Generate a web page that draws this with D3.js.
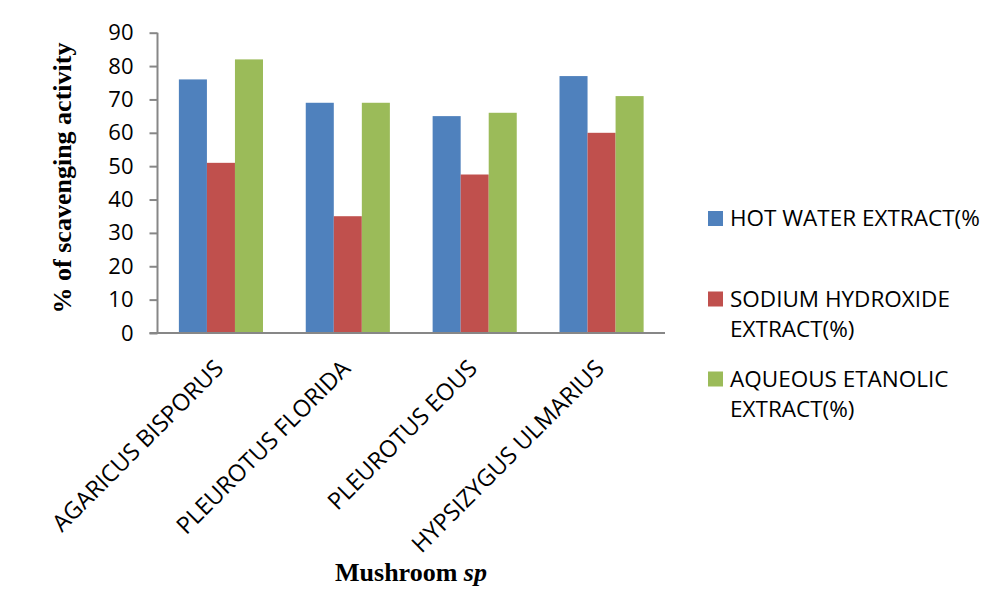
<!DOCTYPE html>
<html>
<head>
<meta charset="utf-8">
<script src="https://cdn.jsdelivr.net/npm/d3@7"></script>
<style>
  html, body { margin: 0; padding: 0; background: #fff; }
  svg { display: block; }
</style>
</head>
<body>
<svg id="chart" width="992" height="589"></svg>
<script>
// Mushroom species and scavenging activity (%) for each extract type
const categories = ["AGARICUS BISPORUS", "PLEUROTUS FLORIDA", "PLEUROTUS EOUS", "HYPSIZYGUS ULMARIUS"];
const seriesNames = ["HOT WATER EXTRACT(%", "SODIUM HYDROXIDE EXTRACT(%)", "AQUEOUS ETANOLIC EXTRACT(%)"];
const hotWater = [76, 69, 65, 77];
const sodiumHydroxide = [51, 35, 47.5, 60];
const aqueousEthanolic = [82, 69, 66, 71];
const yTicks = [0, 10, 20, 30, 40, 50, 60, 70, 80, 90];
const legendLines = [["HOT WATER EXTRACT(%"], ["SODIUM HYDROXIDE", "EXTRACT(%)"], ["AQUEOUS ETANOLIC", "EXTRACT(%)"]];

const seriesValues = [hotWater, sodiumHydroxide, aqueousEthanolic];
const colors = ["#4F81BD", "#C0504D", "#9BBB59"];
const sans = "'Open Sans', 'Liberation Sans', Arial, sans-serif";
const serif = "'Liberation Serif', 'Times New Roman', serif";

const svg = d3.select("#chart");
const plot = { left: 157.5, right: 665, top: 32.7, bottom: 333 };

const x0 = d3.scaleBand().domain(categories).range([plot.left, plot.right]).paddingInner(0.337).paddingOuter(0.1685);
const x1 = d3.scaleBand().domain(d3.range(seriesNames.length)).range([0, x0.bandwidth()]);
const y = d3.scaleLinear().domain([0, 90]).range([plot.bottom, plot.top]);

// Bars
const groups = svg.append("g").selectAll("g")
  .data(categories)
  .join("g")
  .attr("transform", d => `translate(${x0(d)},0)`);

groups.selectAll("rect")
  .data((d, i) => seriesValues.map((vals, s) => ({ s, v: vals[i] })))
  .join("rect")
  .attr("x", d => x1(d.s))
  .attr("width", x1.bandwidth())
  .attr("y", d => y(d.v))
  .attr("height", d => y(0) - y(d.v))
  .attr("fill", d => colors[d.s]);

// Y axis
const yAxis = svg.append("g")
  .attr("transform", `translate(${plot.left},0)`)
  .call(d3.axisLeft(y).tickValues(yTicks).tickSize(8).tickPadding(16).tickFormat(d3.format("d")));
yAxis.select(".domain").attr("stroke", "#878787").attr("stroke-width", 2).attr("d", `M0,${plot.top}V${plot.bottom}`);
yAxis.selectAll(".tick line").attr("stroke", "#878787").attr("stroke-width", 2);
yAxis.selectAll(".tick text")
  .attr("font-family", sans)
  .attr("font-size", 22)
  .attr("fill", "#000");

// X axis baseline
const xAxis = svg.append("g")
  .attr("transform", `translate(0,${plot.bottom})`)
  .call(d3.axisBottom(x0).tickSize(0).tickFormat(""));
xAxis.select(".domain").attr("stroke", "#878787").attr("stroke-width", 2).attr("d", `M${plot.left - 8},0H${plot.right}`);

// Rotated category labels
svg.append("g").selectAll("text")
  .data(categories)
  .join("text")
  .attr("transform", d => `translate(${x0(d) + x0.bandwidth() / 2 + 4},${plot.bottom + 37}) rotate(-45)`)
  .attr("text-anchor", "end")
  .attr("font-family", sans)
  .attr("font-size", 23.5)
  .attr("fill", "#000")
  .text(d => d);

// Axis titles
svg.append("text")
  .attr("transform", `translate(71,178) rotate(-90)`)
  .attr("text-anchor", "middle")
  .attr("font-family", serif)
  .attr("font-weight", "bold")
  .attr("font-size", 26)
  .attr("fill", "#000")
  .text("% of scavenging activity");

const xTitle = svg.append("text")
  .attr("x", 411)
  .attr("y", 581)
  .attr("text-anchor", "middle")
  .attr("font-family", serif)
  .attr("font-weight", "bold")
  .attr("font-size", 26)
  .attr("fill", "#000");
xTitle.append("tspan").text("Mushroom ");
xTitle.append("tspan").attr("font-style", "italic").text("sp");

// Legend
const legendTop = [226, 306.5, 386.5];
const legend = svg.append("g").selectAll("g")
  .data(seriesNames)
  .join("g")
  .attr("transform", (d, i) => `translate(708,${legendTop[i]})`);

legend.append("rect")
  .attr("x", 0)
  .attr("y", -15)
  .attr("width", 15)
  .attr("height", 15)
  .attr("fill", (d, i) => colors[i]);

legend.append("text")
  .attr("x", 22)
  .attr("y", 0)
  .attr("font-family", sans)
  .attr("font-size", 22.5)
  .attr("fill", "#000")
  .selectAll("tspan")
  .data((d, i) => legendLines[i])
  .join("tspan")
  .attr("x", 22)
  .attr("dy", (d, j) => j === 0 ? 0 : 30)
  .text(d => d);
</script>
</body>
</html>
